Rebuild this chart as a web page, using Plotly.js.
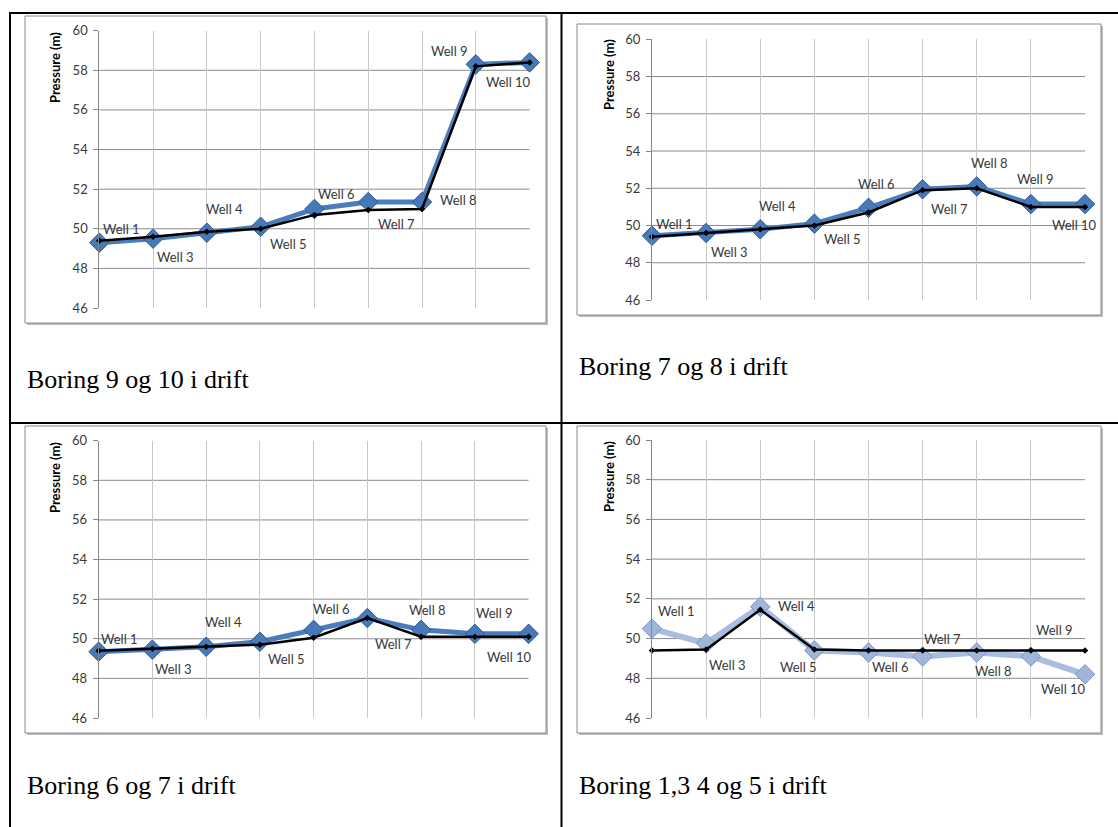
<!DOCTYPE html>
<html>
<head>
<meta charset="utf-8">
<script src="https://cdn.plot.ly/plotly-3.0.1.min.js"></script>
<style>
  html, body { margin: 0; padding: 0; background: #ffffff; }
  #chart { width: 1118px; height: 827px; }
</style>
</head>
<body>
<div id="chart"></div>
<script>
// ---------------- DATA ----------------
const categories = ['Well 1', 'Well 3', 'Well 4', 'Well 5', 'Well 6', 'Well 7', 'Well 8', 'Well 9', 'Well 10'];
const yTicks = [46, 48, 50, 52, 54, 56, 58, 60];
const yTitle = 'Pressure (m)';

const chart1Blue  = [49.3, 49.5, 49.8, 50.1, 51.0, 51.35, 51.35, 58.3, 58.4];
const chart1Black = [49.4, 49.6, 49.85, 50.0, 50.7, 50.95, 51.0, 58.2, 58.4];

const chart2Blue  = [49.45, 49.6, 49.8, 50.1, 50.95, 51.95, 52.1, 51.15, 51.15];
const chart2Black = [49.4, 49.6, 49.8, 50.0, 50.7, 51.9, 52.0, 51.0, 51.0];

const chart3Blue  = [49.35, 49.45, 49.6, 49.85, 50.45, 51.05, 50.45, 50.25, 50.25];
const chart3Black = [49.4, 49.5, 49.6, 49.7, 50.05, 51.05, 50.1, 50.1, 50.1];

const chart4Blue  = [50.5, 49.75, 51.6, 49.4, 49.3, 49.1, 49.3, 49.1, 48.2];
const chart4Black = [49.4, 49.45, 51.45, 49.45, 49.4, 49.4, 49.4, 49.4, 49.4];

const captions = ['Boring 9 og 10 i drift', 'Boring 7 og 8 i drift', 'Boring 6 og 7 i drift', 'Boring 1,3 4 og 5 i drift'];

// ---------------- LAYOUT / STYLE ----------------
const W = 1118, H = 827;
const px = x => x / W;
const py = y => 1 - y / H;

// plot areas in pixels: [left, right, top, bottom]
const panels = [
  { plot: [99.3, 529.6, 30.7, 308], frame: [25, 546, 16, 323], title: [55, 68], caption: [25, 380],
    blue: chart1Blue, black: chart1Black, light: false,
    offs: [[22,-14],[22,18],[18,-24],[28,17],[22,-15],[28,22],[36,-2],[-26,-13],[-21,20]] },
  { plot: [652, 1085, 39.3, 300], frame: [577, 1101, 24, 315], title: [609, 75], caption: [577, 366],
    blue: chart2Blue, black: chart2Black, light: false,
    offs: [[22,-12],[23,19],[17,-23],[28,15],[8,-24],[27,20],[13,-23],[5,-25],[-11,21]] },
  { plot: [98.6, 528.6, 440.7, 718], frame: [25, 546, 426, 733], title: [55, 478], caption: [25, 785],
    blue: chart3Blue, black: chart3Black, light: false,
    offs: [[21,-13],[21,19],[17,-25],[27,17],[18,-21],[26,26],[6,-20],[20,-21],[-19,23]] },
  { plot: [652, 1085, 440, 718], frame: [577, 1101, 426, 733], title: [609, 477], caption: [577, 785],
    blue: chart4Blue, black: chart4Black, light: true,
    offs: [[24,-18],[21,21],[36,-1],[-16,17],[22,15],[20,-17],[17,19],[24,-26],[-22,15]] }
];

const traces = [];
const layout = {
  width: W, height: H,
  margin: { l: 0, r: 0, t: 0, b: 0 },
  paper_bgcolor: '#ffffff',
  plot_bgcolor: 'rgba(0,0,0,0)',
  showlegend: false,
  annotations: [],
  shapes: []
};

const labelFont = { family: 'Lato, "Noto Sans", sans-serif', size: 13, color: '#383838' };

panels.forEach((p, i) => {
  const n = i + 1;
  const xa = n === 1 ? 'x' : 'x' + n;
  const ya = n === 1 ? 'y' : 'y' + n;
  const xKey = n === 1 ? 'xaxis' : 'xaxis' + n;
  const yKey = n === 1 ? 'yaxis' : 'yaxis' + n;

  // frame with shadow
  const [fl, fr, ft, fb] = p.frame;
  layout.shapes.push({ type: 'rect', xref: 'paper', yref: 'paper', layer: 'below',
    x0: px(fl + 2), x1: px(fr + 2), y0: py(fb + 2), y1: py(ft + 2),
    line: { width: 0 }, fillcolor: '#bdbdbd' });
  layout.shapes.push({ type: 'rect', xref: 'paper', yref: 'paper', layer: 'below',
    x0: px(fl), x1: px(fr), y0: py(fb), y1: py(ft),
    line: { color: '#8a8a8a', width: 1 }, fillcolor: '#ffffff' });

  const [pl, pr, pt, pb] = p.plot;
  layout[xKey] = {
    domain: [px(pl), px(pr)], anchor: ya,
    type: 'category', categoryorder: 'array', categoryarray: categories,
    range: [0, categories.length - 1],
    showticklabels: false, ticks: '', showline: false, zeroline: false,
    showgrid: true, gridcolor: '#c8c8c8', gridwidth: 1, fixedrange: true
  };
  layout[yKey] = {
    domain: [py(pb), py(pt)], anchor: xa,
    range: [yTicks[0], yTicks[yTicks.length - 1]],
    tickmode: 'array', tickvals: yTicks, ticktext: yTicks.map(String),
    ticks: 'outside', ticklen: 5, tickcolor: '#868686', tickwidth: 1,
    showline: true, linecolor: '#868686', linewidth: 1,
    showgrid: false, zeroline: false,
    tickfont: { family: 'Lato, "Noto Sans", sans-serif', size: 13, color: '#3a3a3a' },
    ticklabelstandoff: 3, fixedrange: true
  };

  // horizontal gridlines (inner ticks only)
  yTicks.slice(1, -1).forEach(v => {
    layout.shapes.push({ type: 'line', xref: xa + ' domain', yref: ya, layer: 'below',
      x0: 0, x1: 1, y0: v, y1: v, line: { color: '#8c8c8c', width: 1 } });
  });

  const blueLine = p.light ? '#a8bde0' : '#4a7ebb';
  const blueMarker = p.light ? '#9fb5d9' : '#4779b8';
  const blueEdge = p.light ? '#7d95bf' : '#2d5b97';

  traces.push({
    type: 'scatter', mode: 'lines+markers', x: categories, y: p.blue,
    xaxis: xa, yaxis: ya, cliponaxis: false, hoverinfo: 'skip',
    line: { color: blueLine, width: p.light ? 6 : 5 },
    marker: { symbol: 'diamond', size: 15, color: blueMarker, line: { color: blueEdge, width: 1 } }
  });
  traces.push({
    type: 'scatter', mode: 'lines+markers', x: categories, y: p.black,
    xaxis: xa, yaxis: ya, cliponaxis: false, hoverinfo: 'skip',
    line: { color: '#000000', width: 2.5 },
    marker: { symbol: 'diamond', size: 5, color: '#000000' }
  });

  // data labels
  categories.forEach((c, k) => {
    layout.annotations.push({
      xref: xa, yref: ya, x: c, y: p.blue[k], text: c, showarrow: false,
      xshift: p.offs[k][0], yshift: -p.offs[k][1],
      font: labelFont, xanchor: 'center', yanchor: 'middle'
    });
  });

  // y axis title
  layout.annotations.push({
    xref: 'paper', yref: 'paper', x: px(p.title[0]), y: py(p.title[1]),
    text: '<b>' + yTitle + '</b>', textangle: -90, showarrow: false,
    font: { family: 'Lato, "Noto Sans", sans-serif', size: 13, color: '#000000' },
    xanchor: 'center', yanchor: 'middle'
  });

  // caption
  layout.annotations.push({
    xref: 'paper', yref: 'paper', x: px(p.caption[0]), y: py(p.caption[1]),
    text: captions[i], showarrow: false,
    font: { family: '"Liberation Serif", "Times New Roman", serif', size: 26, color: '#000000' },
    xanchor: 'left', yanchor: 'middle'
  });
});

// table borders
const tableLines = [
  [10, 13, 10, H],      // left
  [9, 13, W, 13],       // top
  [561.5, 13, 561.5, H],// middle vertical
  [9, 423, W, 423]      // middle horizontal
];
tableLines.forEach(l => {
  layout.shapes.push({ type: 'line', xref: 'paper', yref: 'paper', layer: 'above',
    x0: px(l[0]), y0: py(l[1]), x1: px(l[2]), y1: py(l[3]),
    line: { color: '#000000', width: 2 } });
});

Plotly.newPlot('chart', traces, layout, { staticPlot: true, displayModeBar: false });
</script>
</body>
</html>
